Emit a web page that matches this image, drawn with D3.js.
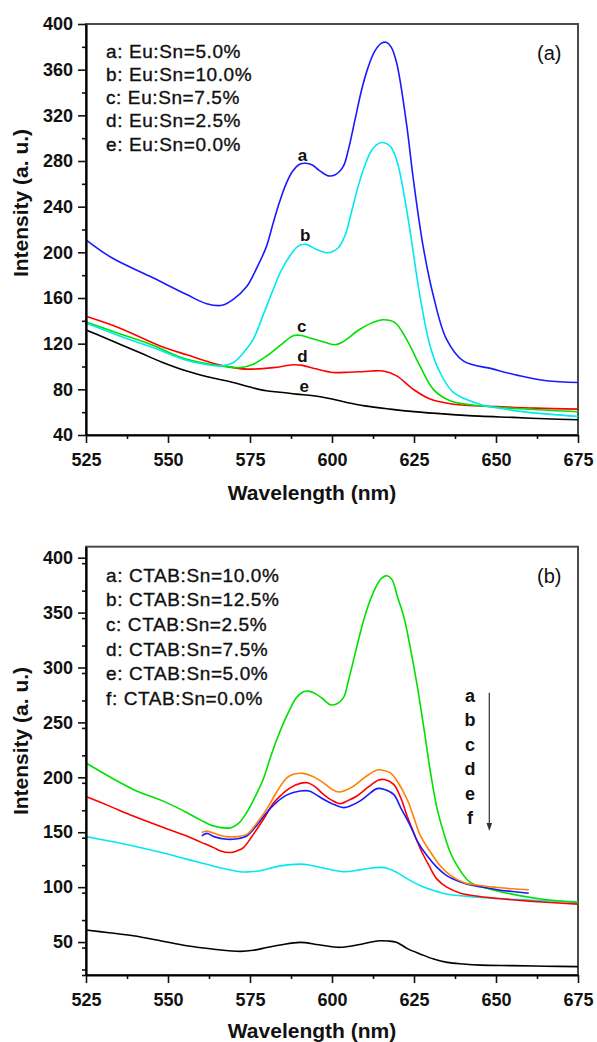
<!DOCTYPE html>
<html>
<head>
<meta charset="utf-8">
<script src="https://cdn.jsdelivr.net/npm/d3@7"></script>
<style>
  body { margin: 0; background: #fff; }
  svg { display: block; font-family: "Liberation Sans", Arial, sans-serif; }
</style>
</head>
<body>
<svg id="chart" width="597" height="1042"></svg>
<script>
// ---- panel (a): Eu doping, [wavelength nm, intensity] ----
const topA = [[525,211],[533,195],[544.5,179],[555.7,163],[561.8,155],[566.4,153.6],[569.9,158.8],[574,170],[577,186],[580,205],[582,225],[584,244],[586,260],[588,271],[590,277],[592,278],[594,276.5],[596,272],[598.8,267],[601,268],[603.4,275],[605,290],[607,316],[609,342],[611,362],[613,376],[615,383],[616.5,384],[618,380],[619.7,366],[622.7,313],[624.8,264],[627.8,205],[630.9,162],[634.9,124],[640,105],[649.2,97.7],[657,92],[665.4,87.5],[675,86]];
const topB = [[525,138],[535,127],[545,117],[555,106],[562,101.5],[566,100.5],[569.9,103.5],[573,112],[576,124],[579,145],[582.1,167.6],[584.5,184],[587.2,197],[589.5,205],[592,207],[595.3,202.5],[598.8,199.6],[601.9,204],[604,215],[606,236],[608,258],[610,276],[612,289],[614,295],[616,296],[618,292],[620,278],[622,250],[624,215],[626.8,162],[629.9,118],[632.9,95],[637,77.3],[645,67],[652,63],[660,59.8],[675,56.3]];
const topC = [[525,139],[535,129],[545,119],[555,107],[565,101],[572,99],[576,102],[580,109],[584,118],[588.2,127],[591,127],[594.3,124],[598,121],[600.9,119],[603,121],[604.5,124],[608.5,132.6],[612,138],[615.6,141],[619.2,138.5],[622.7,124],[626.8,100.6],[630.9,80],[636,70],[645,65.6],[660,62.5],[675,60.4]];
const topD = [[525,144],[535,134],[547.6,118],[556,110],[564.8,102],[570,99],[574,97.7],[582.1,99],[588.2,101.5],[591,101],[595,98],[600.4,94.8],[605,95],[608.5,95.4],[612,96],[615.6,96],[619.7,91.8],[624.8,80],[629.9,71.5],[637,67],[650.2,65],[662,63.5],[675,62.7]];
const topE = [[525,132],[530,126],[541.5,112],[548,104],[555.7,96],[562,91],[569.9,86],[575,82],[580,78.7],[584.1,77.5],[589.2,75.8],[594.3,74.4],[600,71.5],[604.5,68.5],[610,65.5],[617.7,62.7],[625,60.5],[634.9,58.3],[645,56.5],[655.2,55.4],[665,54.2],[675,53.4]];
const topLegend = ["a: Eu:Sn=5.0%", "b: Eu:Sn=10.0%", "c: Eu:Sn=7.5%", "d: Eu:Sn=2.5%", "e: Eu:Sn=0.0%"];
const topCurveLabels = [["a",591,280],["b",591.8,210],["c",590.8,130],["d",591,104],["e",591.5,77.6]];

// ---- panel (b): CTAB ----
const botA = [[525,213],[539.4,189],[548,179],[555.7,168],[560,161],[563.9,155.7],[569,154],[571.5,158],[574,168],[576.5,182],[579,198],[581,216],[583,233],[585,248],[587,261],[589,272],[591,277.5],[593,278.5],[595,276],[597,272],[599.5,266],[601.5,267],[603.5,272.5],[605,288],[607,312],[609,336],[611,356],[613,371],[615,381],[616.8,383.6],[618.3,380],[620,364],[622,345],[624,316],[626,283],[628,245],[630,205],[632,172],[634,150],[636,132],[638.2,119.4],[642.2,104.3],[650.4,96.6],[662.6,89.7],[675,86]];
const botB = [[560.3,149.7],[561.8,151],[564,149],[567.9,146],[571,146],[574,148],[577,158],[580.1,171],[583,186],[586.3,199.7],[588.5,203],[591.3,203.6],[594,201],[597.4,195],[600,189],[602,186.6],[604,188],[606.6,192],[610,200],[613.7,206.6],[615.5,206.5],[617.8,204],[620,196],[622.9,180],[625,163],[627,146.6],[630,132],[633,119.4],[636,111],[640.2,104.3],[645,101.5],[650.4,99.7],[655,98.5],[660,97.6]];
const botC = [[525,182.5],[532,174],[539.4,164.8],[548,155],[555.7,146.6],[560,141],[563.9,136],[566,133],[569,131.5],[571,133],[573,136],[576,148],[579.1,161.8],[582,176],[584.2,183],[587,190],[590.3,194.5],[592.5,195],[595,191],[597.4,184.5],[600,179],[602.5,176],[605,179],[607.6,183],[611,191],[614.2,197.5],[616,198],[618.8,193.6],[621,181],[622.9,164.8],[625,149],[627,134.5],[629.5,120],[632,107.3],[635,100],[639.2,94.5],[645,91.5],[650.4,89.7],[660,87.3],[675,84.5]];
const botD = [[560.3,146.6],[561.8,149],[564,146],[567.9,143.6],[571,144],[574,146.6],[577,156],[580.1,168],[583,177],[586.3,184],[590.3,187.5],[593,187.5],[595,184.5],[597.4,180],[600,176],[603.5,172.4],[606,174.5],[608.6,178.5],[611,184],[613.7,189.7],[616,189],[618.8,184.5],[621,172],[623.9,155.7],[626,142],[629,128.5],[632,118],[635.1,110.3],[638,106],[641.2,102.7],[645,100.5],[650.4,97.6],[655,96],[660,94.5]];
const botE = [[525,146],[532,142],[539.4,137.5],[548,131.5],[555.7,125.5],[564,119],[572,114],[575,114],[578.1,115],[584.2,119.4],[590.3,121],[593.4,120],[598,117],[603.5,114],[608,115.5],[612,117.5],[614.7,118],[617,117],[619.8,113.4],[623,107.5],[627,101.2],[631,97],[635.1,93.6],[640,92],[645.3,90.6],[655,89],[665,87.6],[675,86.6]];
const botF = [[525,61],[532,58.5],[539.4,55.7],[548,51],[555.7,46.6],[564,43.5],[572,41.5],[576,42.5],[580.1,45],[584.2,47.3],[590.3,49.7],[596,47.5],[602.5,45.2],[608,47.5],[612,50],[614.7,51.2],[617,51],[619.8,49.7],[623,44],[627,39],[631,34.5],[635.1,31.5],[640,30],[645.3,29],[655,28.5],[665,28],[675,27.6]];
const botLegend = ["a: CTAB:Sn=10.0%", "b: CTAB:Sn=12.5%", "c: CTAB:Sn=2.5%", "d: CTAB:Sn=7.5%", "e: CTAB:Sn=5.0%", "f: CTAB:Sn=0.0%"];
const arrowLetters = ["a", "b", "c", "d", "e", "f"];

const xTicks = [525, 550, 575, 600, 625, 650, 675];
const topYTicks = [40, 80, 120, 160, 200, 240, 280, 320, 360, 400];
const botYTicks = [50, 100, 150, 200, 250, 300, 350, 400];

const svg = d3.select("#chart");

function drawPanel(opt) {
  const x = d3.scaleLinear().domain([525, 675]).range([86, 578]);
  const y = d3.scaleLinear().domain(opt.yDomain).range([opt.bottom, opt.top]);
  const g = svg.append("g");

  // frame (top/right in grey)
  g.append("rect")
    .attr("x", 86).attr("y", opt.top)
    .attr("width", 578 - 86).attr("height", opt.bottom - opt.top)
    .attr("fill", "none").attr("stroke", "#4a4a4a").attr("stroke-width", 2);

  // curves
  const line = d3.line().x(d => x(d[0])).y(d => y(d[1])).curve(d3.curveCatmullRom.alpha(0.5));
  opt.series.forEach(s => {
    g.append("path").datum(s.data)
      .attr("d", line)
      .attr("fill", "none")
      .attr("stroke", s.color)
      .attr("stroke-width", 1.6);
  });

  // minor ticks
  const xMinor = xTicks.slice(0, -1).map(v => v + 12.5);
  const step = opt.yTicks[1] - opt.yTicks[0];
  const yMinor = d3.range(opt.yDomain[0], opt.yDomain[1], step / 2).filter(v => !opt.yTicks.includes(v));
  if (opt.yDomain[0] < opt.yTicks[0] - step / 2 + 0.01) yMinor.unshift(opt.yTicks[0] - step / 2);

  g.append("g").attr("transform", `translate(0,${opt.bottom})`)
    .call(d3.axisBottom(x).tickValues(xMinor).tickSize(4).tickFormat(""))
    .call(a => a.select(".domain").remove());
  g.append("g").attr("transform", "translate(86,0)")
    .call(d3.axisLeft(y).tickValues(yMinor).tickSize(4).tickFormat(""))
    .call(a => a.select(".domain").remove());

  // major axes
  const xAxis = g.append("g").attr("transform", `translate(0,${opt.bottom})`)
    .call(d3.axisBottom(x).tickValues(xTicks).tickSize(8).tickSizeOuter(0).tickPadding(10).tickFormat(d3.format("d")));
  const yAxis = g.append("g").attr("transform", "translate(86,0)")
    .call(d3.axisLeft(y).tickValues(opt.yTicks).tickSize(8).tickSizeOuter(0).tickPadding(5).tickFormat(d3.format("d")));
  [xAxis, yAxis].forEach(a => {
    a.select(".domain").attr("stroke", "#000").attr("stroke-width", 2.2);
    a.selectAll(".tick text").attr("font-size", 18).attr("font-weight", "bold")
      .attr("font-family", "'Liberation Sans', Arial, sans-serif").attr("fill", "#111");
  });
  g.selectAll(".tick line").attr("stroke", "#111").attr("stroke-width", 1.6);

  // axis titles
  g.append("text")
    .attr("transform", `translate(28,${opt.yTitleY}) rotate(-90)`)
    .attr("text-anchor", "middle")
    .attr("font-size", 21).attr("font-weight", "bold").attr("fill", "#111")
    .text("Intensity (a. u.)");
  g.append("text")
    .attr("x", 312).attr("y", opt.xTitleY)
    .attr("text-anchor", "middle")
    .attr("font-size", 21).attr("font-weight", "bold").attr("fill", "#111")
    .text("Wavelength (nm)");

  // legend text
  g.selectAll(".legend").data(opt.legend).enter().append("text")
    .attr("x", 106)
    .attr("y", (d, i) => opt.legendY + i * opt.legendStep)
    .attr("font-size", 19).attr("letter-spacing", 0.6).attr("fill", "#111")
    .attr("stroke", "#111").attr("stroke-width", 0.35)
    .text(d => d);

  g.append("text")
    .attr("x", 537).attr("y", opt.tagY)
    .attr("font-size", 20).attr("fill", "#111")
    .text(opt.tag);

  return { g, x, y };
}

const p1 = drawPanel({
  top: 24, bottom: 435, yDomain: [40, 400], yTicks: topYTicks,
  series: [
    { data: topE, color: "#000000" },
    { data: topD, color: "#ff0000" },
    { data: topC, color: "#00e000" },
    { data: topB, color: "#00e8f0" },
    { data: topA, color: "#1a1aff" }
  ],
  legend: topLegend, legendY: 57.5, legendStep: 23.3,
  tag: "(a)", tagY: 60, yTitleY: 203, xTitleY: 500
});

p1.g.selectAll(".curve-label").data(topCurveLabels).enter().append("text")
  .attr("x", d => p1.x(d[1]))
  .attr("y", d => p1.y(d[2]))
  .attr("text-anchor", "middle")
  .attr("font-size", 17).attr("font-weight", "bold").attr("fill", "#111")
  .text(d => d[0]);

const p2 = drawPanel({
  top: 546.7, bottom: 975, yDomain: [20, 410], yTicks: botYTicks,
  series: [
    { data: botF, color: "#000000" },
    { data: botE, color: "#00e8f0" },
    { data: botA, color: "#00e000" },
    { data: botC, color: "#ff0000" },
    { data: botD, color: "#1a1aff" },
    { data: botB, color: "#ff8000" }
  ],
  legend: botLegend, legendY: 581.7, legendStep: 24.6,
  tag: "(b)", tagY: 583, yTitleY: 741, xTitleY: 1038
});

// a -> f arrow
p2.g.selectAll(".arrow-letter").data(arrowLetters).enter().append("text")
  .attr("x", 470)
  .attr("y", (d, i) => 701.7 + i * 24.45)
  .attr("text-anchor", "middle")
  .attr("font-size", 18).attr("font-weight", "bold").attr("fill", "#111")
  .text(d => d);

p2.g.append("line")
  .attr("x1", 489.3).attr("x2", 489.3)
  .attr("y1", 692.7).attr("y2", 824)
  .attr("stroke", "#333").attr("stroke-width", 1.2);
p2.g.append("path")
  .attr("d", "M486.5,823 L492.1,823 L489.3,831 Z")
  .attr("fill", "#333");
</script>
</body>
</html>
